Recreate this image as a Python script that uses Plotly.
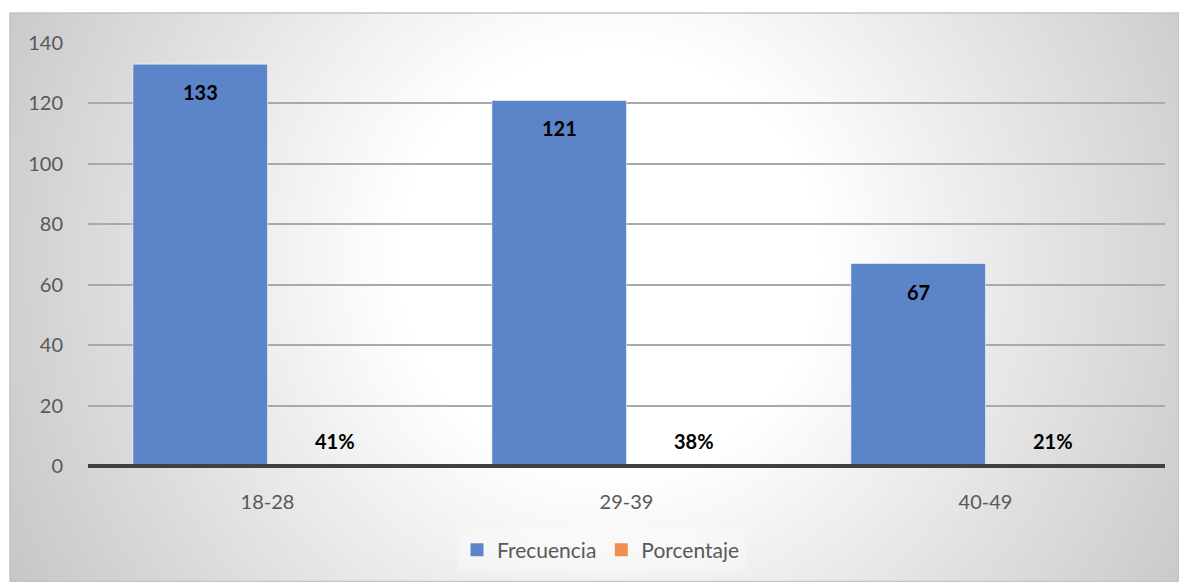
import base64
import plotly.graph_objects as go

# Age groups and their counts / shares
categories = ["18-28", "29-39", "40-49"]
frecuencia = [133, 121, 67]
porcentaje = [0.41, 0.38, 0.21]

W, H = 1179, 582
ML, MR, MT, MB = 88, 14, 43, 116
PW, PH = W - ML - MR, H - MT - MB

def px_to_paper_x(px):
    return (px - ML) / PW

def px_to_paper_y(py):
    return (H - MB - py) / PH

# Chart-area frame (pixel box) with a radial grey-to-white fill
fx0, fy0, fx1, fy1 = 10, 13, 1179, 582
fw, fh = fx1 - fx0, fy1 - fy0
svg = (
    f'<svg xmlns="http://www.w3.org/2000/svg" width="{fw}" height="{fh}" '
    f'viewBox="0 0 {fw} {fh}" preserveAspectRatio="none"><defs>'
    f'<radialGradient id="g" gradientUnits="userSpaceOnUse" cx="600" cy="247" r="700">'
    f'<stop offset="0.3" stop-color="#ffffff"/><stop offset="1" stop-color="#c4c4c4"/>'
    f'</radialGradient></defs><rect width="{fw}" height="{fh}" fill="url(#g)"/></svg>'
)
bg_src = "data:image/svg+xml;base64," + base64.b64encode(svg.encode()).decode()

BLUE = "#5B84C9"
ORANGE = "#ED7D31"
LEG_ORANGE = "#F0904F"
TXT = "#595959"
FONT = "Lato"

fig = go.Figure()
fig.add_trace(go.Bar(
    name="Frecuencia", x=categories, y=frecuencia, showlegend=False,
    marker=dict(color=BLUE, line=dict(color="rgba(255,255,255,0.55)", width=1)),
))
fig.add_trace(go.Bar(
    name="Porcentaje", x=categories, y=porcentaje, showlegend=False,
    marker=dict(color=ORANGE, line=dict(width=0)),
))
# Legend keys drawn as larger squares
for name, col in [("Frecuencia", BLUE), ("Porcentaje", LEG_ORANGE)]:
    fig.add_trace(go.Scatter(
        name=name, x=[None], y=[None], mode="markers",
        marker=dict(symbol="square", size=13, color=col, line=dict(width=0)),
    ))

bar_offset = PW / len(categories) * (1 - 0.25) / 4
annotations = []
for c, v in zip(categories, frecuencia):
    annotations.append(dict(
        x=c, y=v, xref="x", yref="y", text=f"<b>{v}</b>", showarrow=False,
        xshift=-bar_offset, yshift=-28,
        font=dict(family=FONT, size=20, color="#000000"),
    ))
for c, v in zip(categories, porcentaje):
    annotations.append(dict(
        x=c, y=v, xref="x", yref="y", text=f"<b>{round(v * 100)}%</b>", showarrow=False,
        xshift=bar_offset, yshift=24,
        font=dict(family=FONT, size=20, color="#000000"),
    ))

fig.update_layout(
    width=W, height=H,
    margin=dict(l=ML, r=MR, t=MT, b=MB, pad=0),
    paper_bgcolor="#ffffff",
    plot_bgcolor="rgba(0,0,0,0)",
    barmode="group", bargap=0.25, bargroupgap=0,
    font=dict(family=FONT, size=20, color=TXT),
    showlegend=True,
    legend=dict(
        orientation="h", x=px_to_paper_x(601), xanchor="center",
        y=px_to_paper_y(550), yanchor="middle",
        bgcolor="rgba(255,255,255,0.3)",
        font=dict(family=FONT, size=21, color=TXT),
        itemclick=False, itemwidth=30,
    ),
    images=[dict(
        source=bg_src, xref="paper", yref="paper",
        x=px_to_paper_x(fx0), y=px_to_paper_y(fy0),
        sizex=px_to_paper_x(fx1) - px_to_paper_x(fx0),
        sizey=px_to_paper_y(fy0) - px_to_paper_y(fy1),
        sizing="stretch", layer="below", xanchor="left", yanchor="top",
    )],
    shapes=[
        dict(type="rect", xref="paper", yref="paper",
             x0=px_to_paper_x(fx0), x1=px_to_paper_x(fx1 - 0.5),
             y0=px_to_paper_y(fy1 - 0.5), y1=px_to_paper_y(fy0),
             line=dict(color="#c4c4c4", width=1.5), layer="below"),
        # category axis line at value 0
        dict(type="line", xref="paper", yref="paper", x0=0, x1=1, y0=0, y1=0,
             line=dict(color="#404040", width=4), layer="above"),
    ],
    annotations=annotations,
)

fig.update_xaxes(
    showgrid=False, zeroline=False, showline=False, ticks="",
    ticklabelstandoff=22,
    tickfont=dict(family=FONT, size=20, color=TXT),
)
fig.update_yaxes(
    range=[0, 140], dtick=20, tick0=0,
    showgrid=True, gridcolor="#a9a9a9", gridwidth=1.5,
    zeroline=False, showline=False, ticks="",
    ticklabelstandoff=24,
    tickfont=dict(family=FONT, size=20, color=TXT),
)

fig.write_html("out.html")
